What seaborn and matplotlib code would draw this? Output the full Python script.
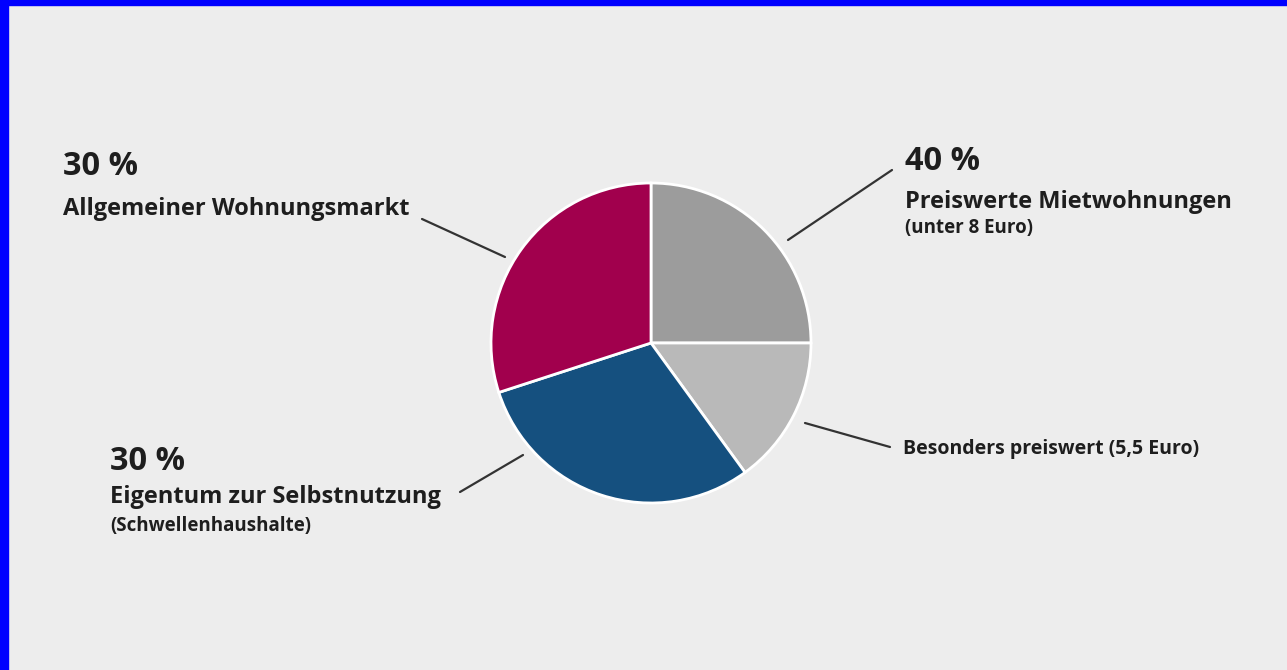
import matplotlib
matplotlib.use("Agg")
import matplotlib.pyplot as plt
import seaborn as sns
from matplotlib.patches import Rectangle

# ---- data ----
slice_names = ["Preiswerte Mietwohnungen", "Besonders preiswert", "Eigentum zur Selbstnutzung", "Allgemeiner Wohnungsmarkt"]
slice_values = [25, 15, 30, 30]
slice_colors = ["#9c9c9c", "#b9b9b9", "#15507f", "#a1004d"]

pct_labels = ["40 %", "30 %", "30 %"]
main_labels = ["Preiswerte Mietwohnungen", "Eigentum zur Selbstnutzung", "Allgemeiner Wohnungsmarkt"]
sub_labels = ["(unter 8 Euro)", "(Schwellenhaushalte)", ""]
extra_label = "Besonders preiswert (5,5 Euro)"

sns.set_theme(style="white")
plt.rcParams['font.family'] = ['Open Sans', 'DejaVu Sans']

W, H = 1287, 670
BG = "#ededed"
fig = plt.figure(figsize=(W / 100, H / 100), dpi=100, facecolor=BG)
ax = fig.add_axes([0, 0, 1, 1])
ax.set_facecolor(BG)

cx, cy, r = 651, H - 343, 160
ax.pie(slice_values, colors=slice_colors, startangle=90, counterclock=False,
       center=(cx, cy), radius=r, frame=True,
       wedgeprops=dict(edgecolor="white", linewidth=2))
ax.set_xlim(0, W)
ax.set_ylim(0, H)
ax.set_aspect("equal")
ax.axis("off")

def y(v):
    return H - v

txt = "#1e1e1e"
line_kw = dict(color="#333333", linewidth=1.6)

# top-left: Allgemeiner Wohnungsmarkt
ax.text(63, y(175), pct_labels[2], fontsize=23.5, fontweight="bold", color=txt, va="baseline")
ax.text(63, y(215), main_labels[2], fontsize=17, fontweight="bold", color=txt, va="baseline")
ax.plot([422, 505], [y(219), y(257)], **line_kw)

# top-right: Preiswerte Mietwohnungen
ax.text(905, y(170), pct_labels[0], fontsize=23.5, fontweight="bold", color=txt, va="baseline")
ax.text(905, y(208), main_labels[0], fontsize=17, fontweight="bold", color=txt, va="baseline")
ax.text(905, y(233), sub_labels[0], fontsize=13.5, fontweight="bold", color=txt, va="baseline")
ax.plot([892, 788], [y(170), y(240)], **line_kw)

# right: Besonders preiswert
ax.text(903, y(454), extra_label, fontsize=14, fontweight="bold", color=txt, va="baseline")
ax.plot([805, 890], [y(423), y(447)], **line_kw)

# bottom-left: Eigentum zur Selbstnutzung
ax.text(110, y(470), pct_labels[1], fontsize=23.5, fontweight="bold", color=txt, va="baseline")
ax.text(110, y(503), main_labels[1], fontsize=17, fontweight="bold", color=txt, va="baseline")
ax.text(110, y(531), sub_labels[1], fontsize=13.5, fontweight="bold", color=txt, va="baseline")
ax.plot([460, 523], [y(492), y(455)], **line_kw)

# blue frame (left and top)
fig.patches.append(Rectangle((0, 0), 8 / W, 1, transform=fig.transFigure, color="#0000ff", zorder=10))
fig.patches.append(Rectangle((0, 1 - 5 / H), 1, 5 / H, transform=fig.transFigure, color="#0000ff", zorder=10))

fig.savefig("out.png", dpi=100, facecolor=BG)
